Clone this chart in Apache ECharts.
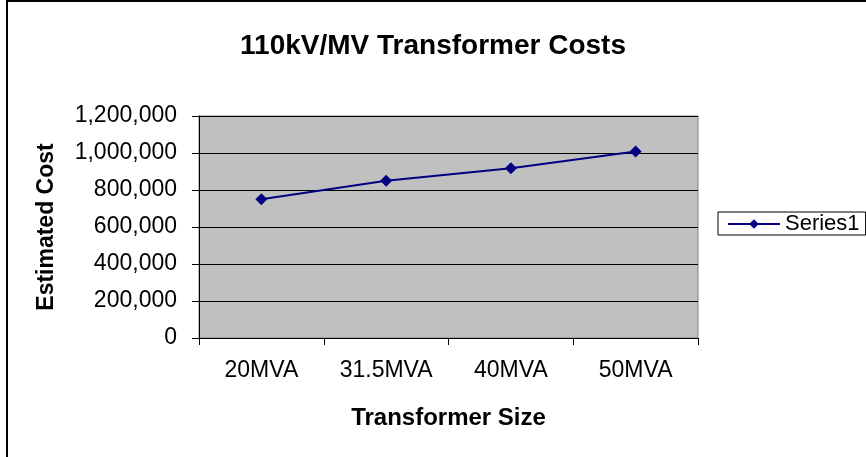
<!DOCTYPE html>
<html><head><meta charset="utf-8">
<script src="https://cdn.jsdelivr.net/npm/echarts@6/dist/echarts.min.js"></script>
<style>html,body{margin:0;padding:0;background:#fff}#c{width:866px;height:457px}</style>
</head><body><div id="c"></div>
<script>
const categories = ['20MVA', '31.5MVA', '40MVA', '50MVA'];
const series1 = [750000, 850000, 918000, 1008000];
const yTicks = [0, 200000, 400000, 600000, 800000, 1000000, 1200000];
const seriesName = 'Series1';

const chart = echarts.init(document.getElementById('c'), null, {renderer: 'canvas'});
const F = 'Arial, "Liberation Sans", sans-serif';
chart.setOption({
  animation: false,
  backgroundColor: '#fff',
  title: {
    text: '110kV/MV Transformer Costs',
    left: 'center', top: 27,
    textStyle: {fontFamily: F, fontSize: 28, fontWeight: 'bold', color: '#000'}
  },
  graphic: [{
    type: 'rect', z: -1, silent: true,
    shape: {x: 7, y: 1, width: 900, height: 500},
    style: {fill: 'none', stroke: '#000', lineWidth: 2}
  }, {
    type: 'rect', z: 0, silent: true,
    shape: {x: 199, y: 116, width: 499, height: 222},
    style: {fill: 'none', stroke: '#808080', lineWidth: 1}
  }],
  legend: {
    left: 718, top: 212,
    data: [seriesName],
    orient: 'vertical',
    itemWidth: 52, itemHeight: 12,
    padding: [1, 6, 0, 9],
    borderColor: '#000', borderWidth: 1,
    textStyle: {fontFamily: F, fontSize: 22, color: '#000'}
  },
  grid: {left: 199, right: 168, top: 116, bottom: 119, show: true, backgroundColor: '#C0C0C0', borderWidth: 0},
  xAxis: {
    type: 'category', data: categories, boundaryGap: true,
    name: 'Transformer Size', nameLocation: 'middle', nameGap: 68,
    nameTextStyle: {fontFamily: F, fontSize: 24, fontWeight: 'bold', color: '#000'},
    axisLine: {lineStyle: {color: '#000', width: 1}},
    axisTick: {show: true, length: 7, lineStyle: {color: '#000'}},
    axisLabel: {fontFamily: F, fontSize: 23, color: '#000', margin: 21}
  },
  yAxis: {
    type: 'value', min: 0, max: 1200000, interval: 200000,
    name: 'Estimated Cost', nameLocation: 'middle', nameGap: 141, nameRotate: 90,
    nameTextStyle: {fontFamily: F, fontSize: 23, fontWeight: 'bold', color: '#000'},
    axisLine: {show: true, lineStyle: {color: '#000', width: 1}},
    axisTick: {show: true, length: 7, lineStyle: {color: '#000'}},
    axisLabel: {fontFamily: F, fontSize: 23, color: '#000', margin: 22,
      formatter: v => yTicks.includes(v) ? v.toLocaleString('en-US') : ''},
    splitLine: {show: true, lineStyle: {color: '#000', width: 1}}
  },
  series: [{
    name: seriesName, type: 'line', data: series1,
    symbol: 'diamond', symbolSize: 12,
    lineStyle: {color: '#000080', width: 2},
    itemStyle: {color: '#000080'}
  }]
});
</script></body></html>
